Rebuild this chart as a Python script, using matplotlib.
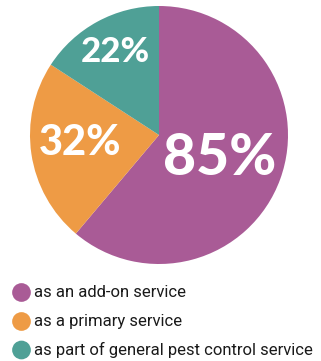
import matplotlib
matplotlib.use("Agg")
import matplotlib.pyplot as plt

# data
labels = ["as an add-on service", "as a primary service", "as part of general pest control service"]
values = [85, 32, 22]
colors = ["#A95B96", "#EE9B45", "#4FA096"]

W, H = 321, 361
fig = plt.figure(figsize=(W / 100, H / 100), dpi=100)

# pie axes: centre ~ (159, 135) px, radius ~129 px
cx, cy, r = 159, 135, 129
ax = fig.add_axes([(cx - r) / W, (H - cy - r) / H, 2 * r / W, 2 * r / H])
wedges, _ = ax.pie(values, colors=colors, startangle=90, counterclock=False,
                   radius=1, wedgeprops=dict(linewidth=0))
ax.set_xlim(-1, 1)
ax.set_ylim(-1, 1)
ax.set_aspect("equal")
ax.axis("off")

# percentage labels (position in axes data units, font size)
label_pos = [(0.47, -0.18), (-0.61, -0.06), (-0.34, 0.64)]
label_size = [41, 30, 25]
for v, (x, y), s in zip(values, label_pos, label_size):
    ax.text(x, y, f"{v}%", color="white", fontsize=s, fontweight="black",
            family=["Lato", "DejaVu Sans"], ha="center", va="center")

# legend drawn by hand in its own axes (pixel coords)
lax = fig.add_axes([0, 0, 1, 1])
lax.set_xlim(0, W)
lax.set_ylim(H, 0)
lax.axis("off")
row_y = [292.5, 321.5, 350]
lax.scatter([21.5] * 3, row_y, s=18 ** 2 * 0.56, c=colors, linewidths=0)
for lab, y in zip(labels, row_y):
    lax.text(34, y, lab, fontsize=12, family=["Roboto", "DejaVu Sans"],
             color="#1a1a1a", ha="left", va="center")

fig.savefig("out.png", dpi=100)
